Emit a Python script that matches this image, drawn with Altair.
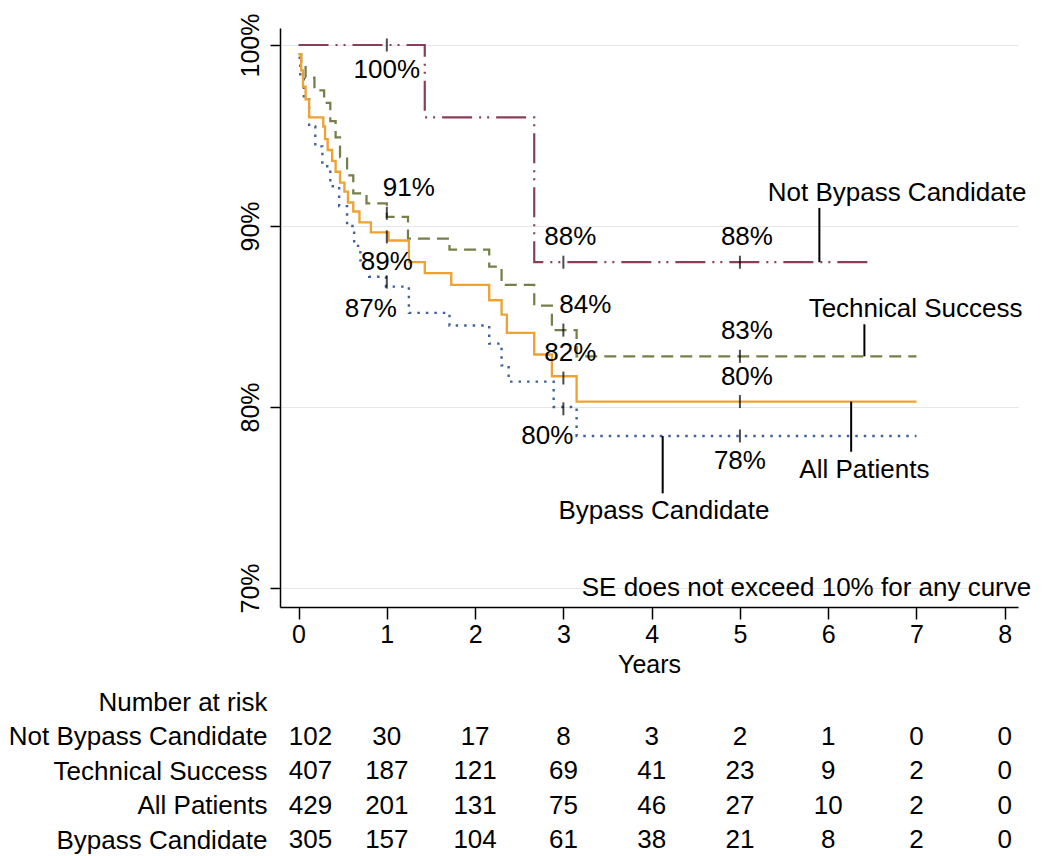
import altair as alt
import pandas as pd

groups = ["Not Bypass Candidate", "Technical Success", "All Patients", "Bypass Candidate"]
colors = ["#8b3f57", "#74804c", "#eda232", "#40619a"]
dashes = [[30, 7, 2, 6, 2, 7], [12, 7], [1, 0], [2.5, 6]]
widths = [2.2, 2.4, 3, 2.8]

# Kaplan-Meier step points (years, % event-free)
nbc_t = [0, 1.43, 2.67, 6.48]
nbc_s = [100.0, 96.0, 88.0, 88.0]

ts_t = [0, 0.03, 0.08, 0.18, 0.29, 0.36, 0.42, 0.47, 0.55, 0.62, 0.77, 1.0, 1.24,
        1.71, 2.16, 2.30, 2.67, 2.87, 3.15, 7.0]
ts_s = [99.5, 99.0, 98.2, 97.5, 96.8, 95.8, 94.9, 93.8, 92.8, 91.8, 91.25, 90.5, 89.3,
        88.7, 87.75, 86.75, 85.6, 84.25, 82.8, 82.8]

ap_t = [0, 0.03, 0.05, 0.08, 0.12, 0.28, 0.30, 0.33, 0.38, 0.42, 0.47, 0.52, 0.56,
        0.62, 0.69, 0.82, 1.02, 1.25, 1.43, 1.73, 2.16, 2.30, 2.36, 2.67, 2.87, 3.15, 7.0]
ap_s = [99.5, 98.6, 97.7, 97.0, 96.0, 95.5, 94.8, 94.2, 93.6, 93.0, 92.4, 91.9, 91.3,
        90.8, 90.2, 89.65, 89.2, 88.0, 87.4, 86.75, 85.9, 85.1, 84.1, 82.9, 81.7, 80.3, 80.3]

bc_t = [0, 0.02, 0.06, 0.12, 0.19, 0.27, 0.36, 0.46, 0.55, 0.63, 0.70, 0.80, 0.99,
        1.25, 1.71, 2.16, 2.30, 2.38, 2.89, 3.15, 7.0]
bc_s = [99.3, 98.2, 97.0, 95.5, 94.4, 93.3, 92.2, 91.1, 90.0, 88.9, 88.1, 87.2, 86.65,
        85.2, 84.5, 83.5, 82.3, 81.4, 80.0, 78.4, 78.4]

# marked estimates at 1, 3 and 5 years
mark_times = [1, 3, 5]
mark_vals = {
    "Not Bypass Candidate": [100.0, 88.0, 88.0],
    "Technical Success": [90.7, 84.25, 82.8],
    "All Patients": [89.4, 81.6, 80.3],
    "Bypass Candidate": [86.9, 79.9, 78.4],
}
mark_text = {
    "Not Bypass Candidate": ["100%", "88%", "88%"],
    "Technical Success": ["91%", "84%", "83%"],
    "All Patients": ["89%", "82%", "80%"],
    "Bypass Candidate": ["87%", "80%", "78%"],
}
mark_place = {
    "Not Bypass Candidate": ["below", "above", "above"],
    "Technical Success": ["upper right", "upper right", "above"],
    "All Patients": ["below", "above", "above"],
    "Bypass Candidate": ["lower left", "lower left", "below"],
}
place_offsets = {"below": (0, 25), "above": (7, -25), "upper right": (22, -25), "lower left": (-16, 27)}

# curve name callouts
callout_t = [5.9, 6.41, 6.26, 4.125]
callout_from = [88.0, 82.8, 80.3, 78.4]
callout_to = [91.0, 84.57, 77.53, 75.23]
callout_text_t = [6.78, 6.99, 6.41, 4.14]
callout_side = ["above", "above", "below", "below"]

note_text = "SE does not exceed 10% for any curve"
note_t, note_s = 8.3, 70

# number at risk
risk_times = [0, 1, 2, 3, 4, 5, 6, 7, 8]
risk = {
    "Not Bypass Candidate": [102, 30, 17, 8, 3, 2, 1, 0, 0],
    "Technical Success": [407, 187, 121, 69, 41, 23, 9, 2, 0],
    "All Patients": [429, 201, 131, 75, 46, 27, 10, 2, 0],
    "Bypass Candidate": [305, 157, 104, 61, 38, 21, 8, 2, 0],
}
risk_heading = "Number at risk"

# ---------------- data tables ----------------
curve_series = {
    "Not Bypass Candidate": (nbc_t, nbc_s),
    "Technical Success": (ts_t, ts_s),
    "Bypass Candidate": (bc_t, bc_s),
    "All Patients": (ap_t, ap_s),
}
curve_rows = []
for g, (tt, ss) in curve_series.items():
    for i, (a, b) in enumerate(zip(tt, ss)):
        curve_rows.append({"group": g, "t": a, "s": b, "i": i})
curve_df = pd.DataFrame(curve_rows)

mark_rows = []
for g in groups:
    for k, tm in enumerate(mark_times):
        mark_rows.append({"group": g, "t": tm, "s": mark_vals[g][k],
                          "label": mark_text[g][k], "place": mark_place[g][k]})
mark_df = pd.DataFrame(mark_rows)

leader_df = pd.DataFrame({"group": groups, "t": callout_t, "s": callout_from, "s2": callout_to})
ctext_df = pd.DataFrame({"group": groups, "t": callout_text_t, "s": callout_to, "side": callout_side})
note_df = pd.DataFrame({"t": [note_t], "s": [note_s], "label": [note_text]})

risk_rows = []
for g in groups:
    for tm, n in zip(risk_times, risk[g]):
        risk_rows.append({"row": g, "t": tm, "n": str(n)})
risk_df = pd.DataFrame(risk_rows)

# ---------------- encodings ----------------
FS = 26
xs = alt.Scale(domain=[-0.21, 8.15], nice=False, zero=False)
ys = alt.Scale(domain=[68.95, 100.94], nice=False, zero=False)

X = alt.X("t:Q", scale=xs, axis=alt.Axis(
    values=risk_times, format="d", title="Years", grid=False,
    tickSize=12, tickWidth=1.5, tickColor="black",
    domainColor="black", domainWidth=1.5,
    labelFontSize=25, labelColor="black", labelPadding=3,
    titleFontSize=25, titleFontWeight="normal", titleColor="black", titlePadding=5))
Y = alt.Y("s:Q", scale=ys, axis=alt.Axis(
    values=[70, 80, 90, 100], labelExpr="datum.value + '%'", title=None,
    grid=True, gridColor="#e6e6e6", gridWidth=1,
    tickSize=10, tickWidth=1.5, tickColor="black",
    domainColor="black", domainWidth=1.5,
    labelAngle=270, labelAlign="center", labelBaseline="bottom",
    labelFontSize=25, labelColor="black", labelPadding=7))

curves = alt.Chart(curve_df).mark_line(interpolate="step-after").encode(
    x=X, y=Y,
    color=alt.Color("group:N", scale=alt.Scale(domain=groups, range=colors), legend=None),
    strokeDash=alt.StrokeDash("group:N", scale=alt.Scale(domain=groups, range=dashes), legend=None),
    strokeWidth=alt.StrokeWidth("group:N", scale=alt.Scale(domain=groups, range=widths), legend=None),
    order="i:Q",
)

ticks = alt.Chart(mark_df).mark_tick(orient="vertical", color="black", size=13, thickness=2).encode(x=X, y=Y)

label_layers = []
for p, (ddx, ddy) in place_offsets.items():
    label_layers.append(
        alt.Chart(mark_df).transform_filter(alt.datum.place == p)
        .mark_text(fontSize=FS, color="black", dx=ddx, dy=ddy, align="center", baseline="middle")
        .encode(x=X, y=Y, text="label:N")
    )

leaders = alt.Chart(leader_df).mark_rule(color="black", strokeWidth=2).encode(x=X, y=Y, y2="s2:Q")

ctext_above = alt.Chart(ctext_df).transform_filter(alt.datum.side == "above").mark_text(
    fontSize=FS, color="black", align="center", baseline="alphabetic", dy=-7
).encode(x=X, y=Y, text="group:N")
ctext_below = alt.Chart(ctext_df).transform_filter(alt.datum.side == "below").mark_text(
    fontSize=FS, color="black", align="center", baseline="top", dy=5
).encode(x=X, y=Y, text="group:N")

note = alt.Chart(note_df).mark_text(fontSize=FS, color="black", align="right", baseline="middle").encode(
    x=X, y=Y, text="label:N")

top = alt.layer(curves, leaders, ticks, *label_layers, ctext_above, ctext_below, note).properties(
    width=738, height=579)

# ---------------- number at risk table ----------------
rows = [risk_heading] + groups
RX = alt.X("t:Q", scale=alt.Scale(domain=[-0.21, 8.15], nice=False, zero=False), axis=None)
RY = alt.Y("row:N", scale=alt.Scale(domain=rows), axis=alt.Axis(
    title=None, domain=False, ticks=False, grid=False, labelFontSize=FS, labelPadding=13,
    labelLimit=400, labelColor="black"))

tab0 = alt.Chart(risk_df).transform_filter(alt.datum.t == 0).mark_text(
    fontSize=FS, color="black", dx=12).encode(x=RX, y=RY, text="n:N")
tab = alt.Chart(risk_df).transform_filter(alt.datum.t > 0).mark_text(
    fontSize=FS, color="black").encode(x=RX, y=RY, text="n:N")
bottom = alt.layer(tab0, tab).properties(width=738, height=alt.Step(34.5))

chart = alt.vconcat(top, bottom, spacing=8,
                    padding={"left": 0, "top": 5, "right": 5, "bottom": 5}).configure(
    font="Liberation Sans").configure_view(strokeWidth=0)

chart.save("out.html", embed_options={"renderer": "svg", "actions": False})
